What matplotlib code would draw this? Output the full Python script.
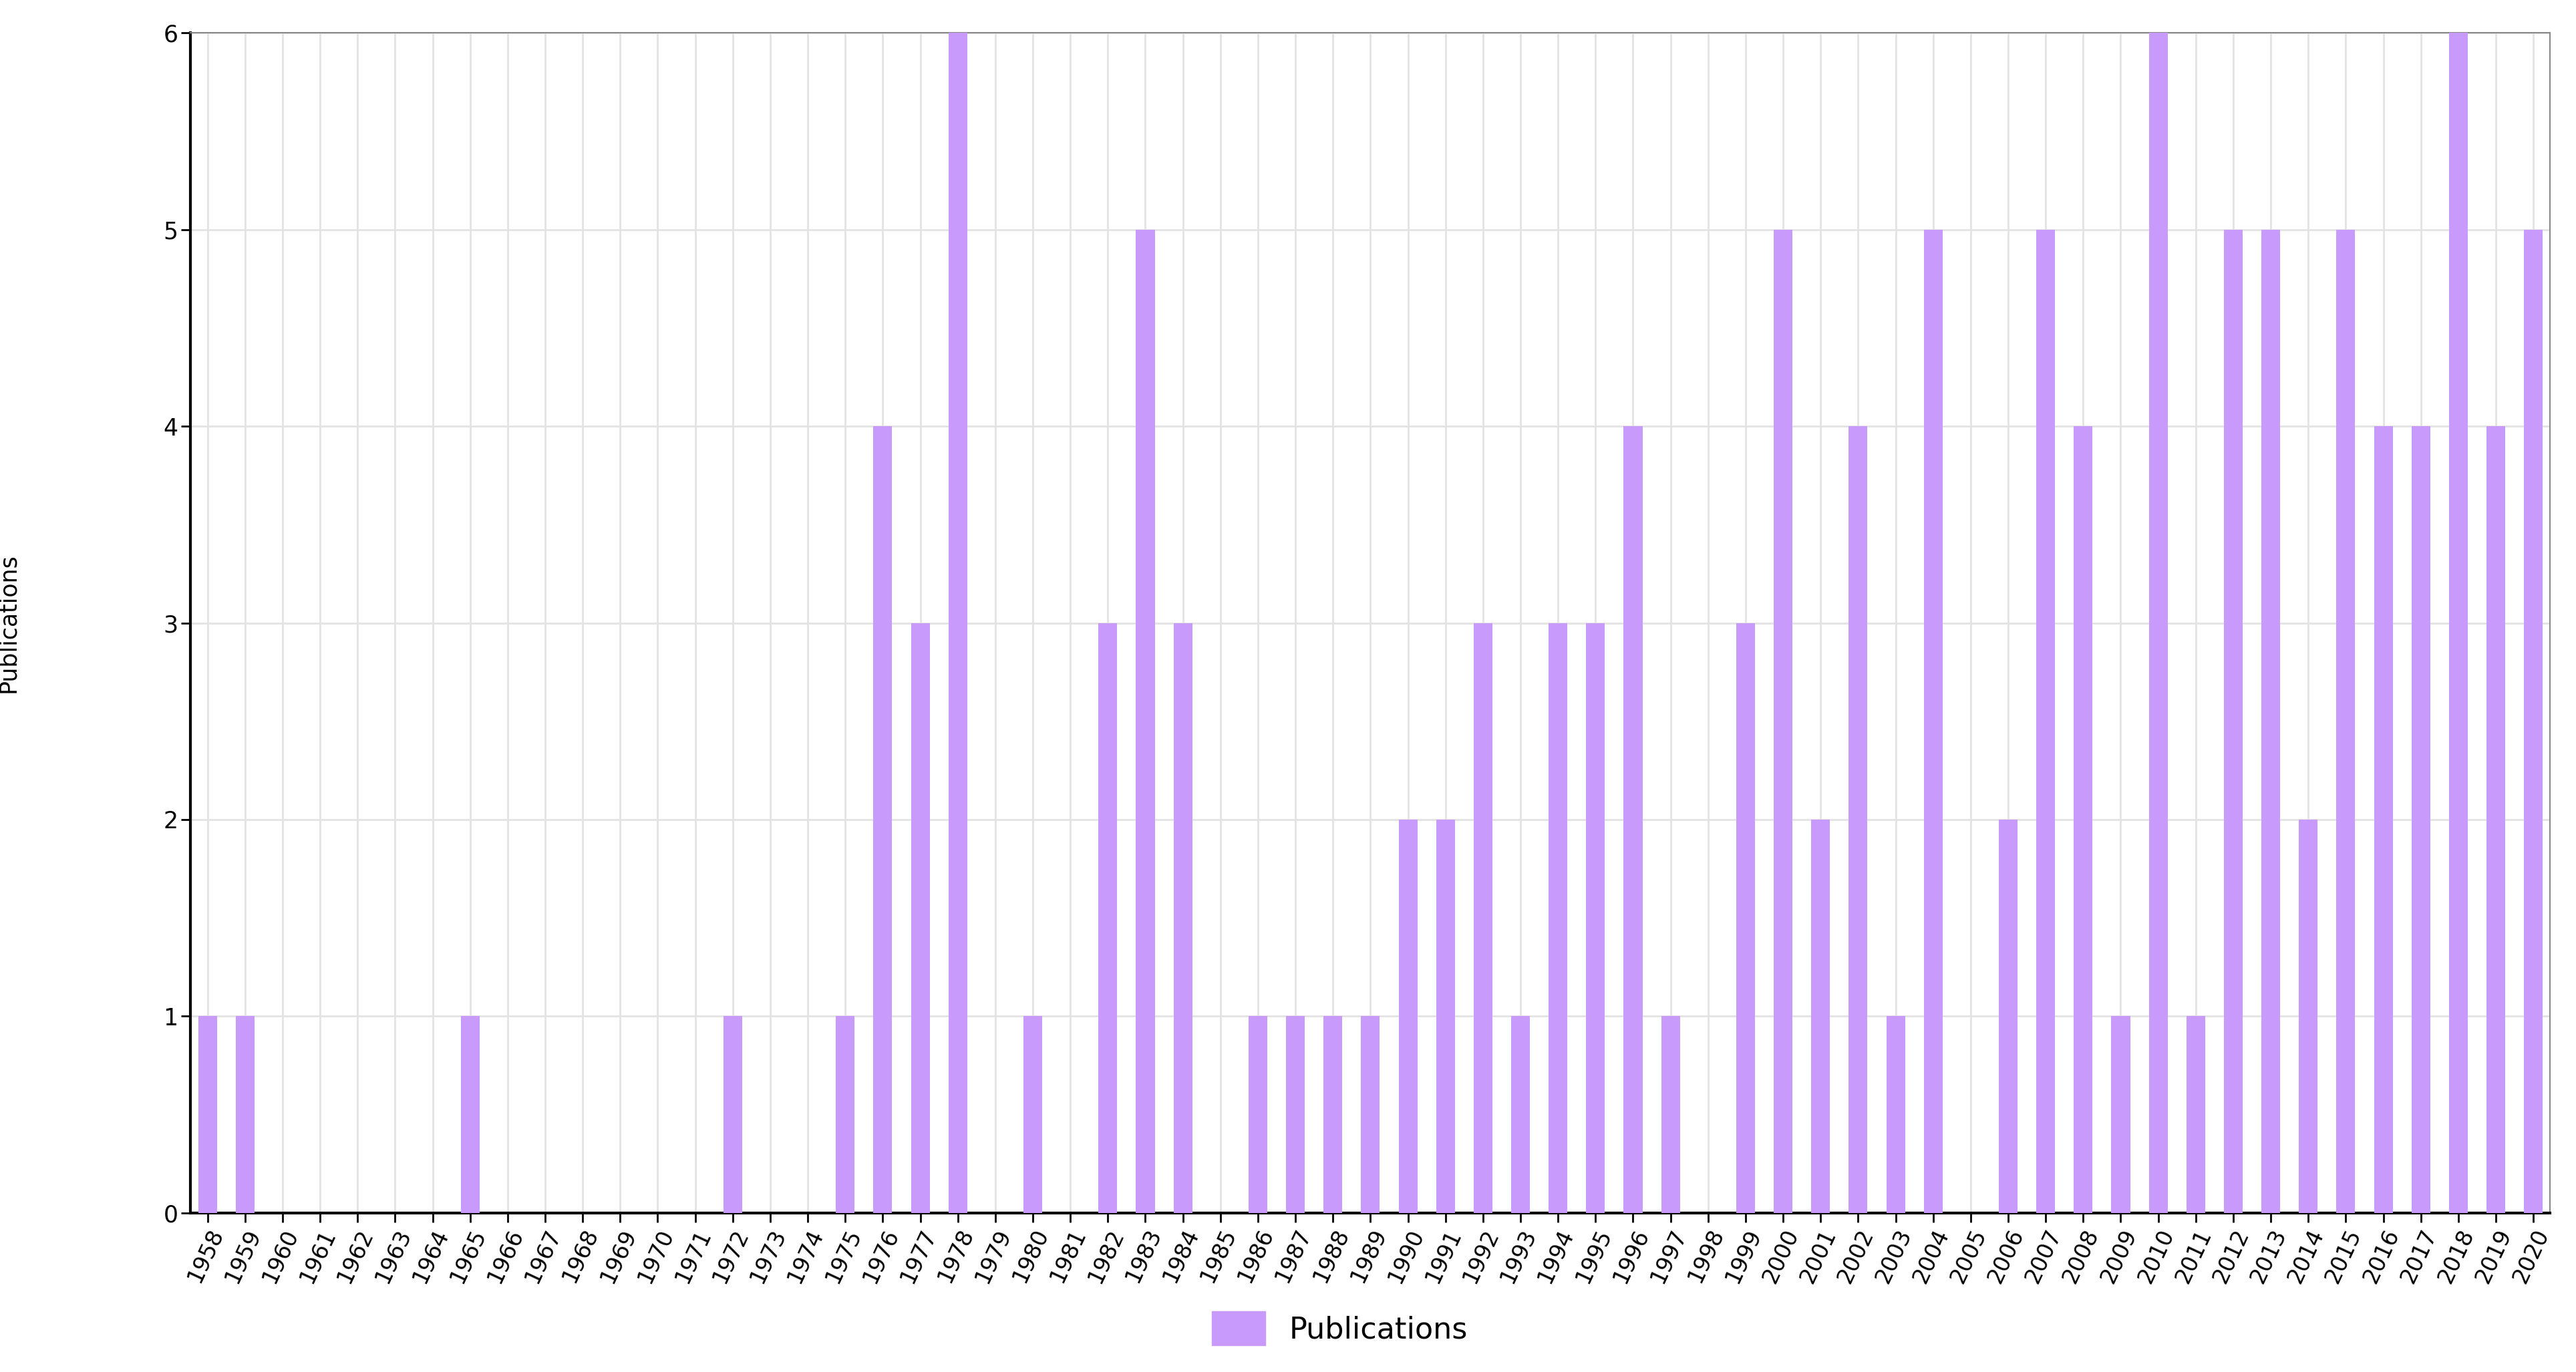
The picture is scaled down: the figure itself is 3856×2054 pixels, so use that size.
import matplotlib
matplotlib.use("Agg")
import matplotlib.pyplot as plt
from matplotlib.patches import Patch

years = list(range(1958, 2021))
pubs = [1,1,0,0,0,0,0,1,0,0,0,0,0,0,1,0,0,1,4,3,6,0,1,0,3,5,3,0,1,1,1,1,2,2,3,1,3,3,4,1,0,3,5,2,4,1,5,0,2,5,4,1,6,1,5,5,2,5,4,4,6,4,5]
color = "#c89afc"

fig = plt.figure(figsize=(38.56, 20.54), dpi=100)
ax = fig.add_axes([0.074, 0.116, 0.916, 0.86])
x = list(range(len(years)))
ax.bar(x, pubs, width=0.5, color=color, zorder=3)
ax.set_xlim(-0.45, len(years) - 0.55)
ax.set_ylim(0, 6)
ax.set_xticks(x)
ax.set_xticklabels([str(y) for y in years], rotation=65, ha="right", rotation_mode="anchor", fontsize=24)
ax.set_yticks(range(7))
ax.tick_params(axis="y", labelsize=25, length=10, width=2)
ax.tick_params(axis="x", length=10, width=2)
ax.grid(True, color="#e3e3e3", linewidth=2, zorder=0)
for s in ["top", "right"]:
    ax.spines[s].set_color("#888888")
    ax.spines[s].set_linewidth(1.5)
for s in ["left", "bottom"]:
    ax.spines[s].set_color("black")
    ax.spines[s].set_linewidth(3)
ax.set_ylabel("Publications", fontsize=25, labelpad=155)
fig.legend(handles=[Patch(color=color, label="Publications")], loc="lower center",
           bbox_to_anchor=(0.52, 0.0), frameon=False, fontsize=32, handlelength=1.8, handleheight=1.4)
fig.savefig("out.png", dpi=100)
